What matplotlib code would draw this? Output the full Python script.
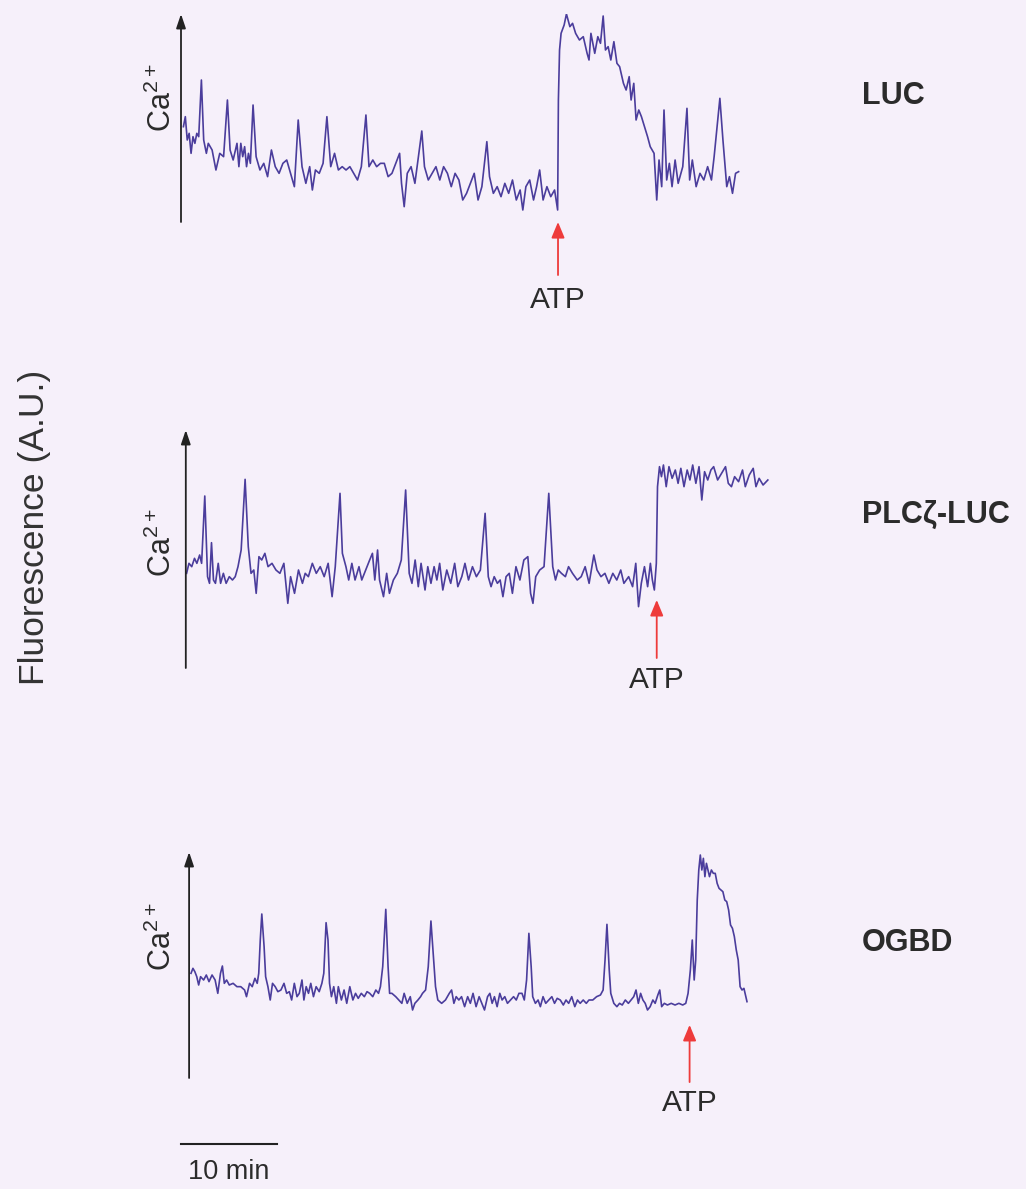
import numpy as np
import matplotlib
matplotlib.use("Agg")
import matplotlib.pyplot as plt

plt.rcParams['font.family'] = ['Liberation Sans', 'DejaVu Sans']
plt.rcParams['mathtext.default'] = 'regular'

# recordings: frame number and fluorescence (A.U.)
luc_frame = [35, 40, 45, 50, 55, 60, 65, 70, 75, 82, 88, 95, 100, 110, 120, 130, 140, 150, 157, 165,
             175, 180, 185, 190, 195, 200, 205, 210, 217, 225, 235, 245, 255, 265, 275, 285, 295, 305,
             315, 325, 335, 345, 355, 365, 372, 380, 390, 400, 410, 420, 430, 440, 450, 460, 470, 480,
             490, 500, 512, 520, 530, 540, 550, 560, 570, 580, 590, 600, 605, 612, 620, 630, 640, 648,
             658, 665, 675, 685, 695, 705, 715, 725, 735, 745, 755, 765, 775, 785, 795, 805, 815, 828,
             835, 845, 855, 865, 875, 885, 895, 905, 915, 922, 930, 940, 950, 958, 966, 975, 985, 995,
             1005, 1013, 1015, 1018, 1022, 1030, 1036, 1045, 1052, 1060, 1070, 1080, 1090, 1095, 1100,
             1110, 1118, 1125, 1132, 1138, 1145, 1152, 1160, 1168, 1175, 1185, 1192, 1200, 1205, 1212,
             1218, 1225, 1232, 1240, 1248, 1255, 1265, 1272, 1278, 1285, 1291, 1298, 1305, 1312, 1320,
             1328, 1340, 1351, 1358, 1365, 1375, 1385, 1395, 1405, 1415, 1422, 1437, 1445, 1455, 1462,
             1470, 1478, 1486]
luc_f = [320, 350, 280, 300, 240, 290, 270, 300, 290, 460, 280, 240, 270, 250, 190, 240, 230, 400, 250, 220,
         270, 200, 270, 230, 260, 200, 240, 210, 385, 230, 190, 210, 170, 250, 200, 180, 210, 220,
         180, 140, 340, 200, 150, 200, 130, 190, 180, 210, 350, 200, 240, 190, 200, 190, 200, 180,
         160, 200, 355, 200, 220, 200, 210, 210, 170, 180, 210, 240, 150, 80, 180, 200, 150, 220,
         307, 200, 160, 180, 200, 160, 200, 180, 140, 180, 160, 100, 120, 150, 180, 100, 140, 275,
         170, 120, 140, 110, 150, 120, 160, 100, 130, 70, 140, 160, 100, 140, 190, 100, 140, 110,
         130, 70, 400, 550, 600, 625, 658, 620, 630, 600, 580, 590, 540, 520, 600,
         540, 590, 570, 652, 550, 560, 520, 575, 510, 500, 450, 430, 470, 400, 450,
         340, 370, 350, 320, 290, 260, 240, 100, 220, 140, 370, 160, 210, 140, 220,
         150, 200, 375, 160, 220, 140, 180, 160, 200, 160, 230, 405, 280, 140, 170,
         120, 180, 185]

plc_frame = [42, 48, 55, 62, 68, 75, 80, 88, 95, 100, 105, 110, 115, 122, 128, 135, 142, 150, 158, 165,
             172, 180, 190, 198, 205, 212, 218, 225, 232, 240, 248, 258, 268, 278, 288, 298, 305, 315,
             325, 335, 342, 350, 360, 370, 380, 390, 400, 410, 418, 430, 436, 445, 452, 460, 468, 478,
             485, 495, 505, 512, 518, 525, 530, 540, 548, 555, 565, 575, 585, 596, 605, 612, 620, 628,
             635, 645, 652, 660, 668, 675, 682, 690, 700, 710, 720, 728, 738, 746, 755, 765, 775, 785,
             797, 805, 812, 820, 828, 835, 842, 850, 858, 866, 875, 885, 895, 905, 912, 918, 925, 935,
             946, 958, 968, 975, 982, 990, 1000, 1008, 1018, 1030, 1040, 1050, 1060, 1072, 1080, 1090,
             1100, 1110, 1120, 1130, 1140, 1148, 1160, 1170, 1178, 1185, 1192, 1200, 1208, 1215, 1220,
             1225, 1230, 1233, 1238, 1243, 1248, 1255, 1262, 1270, 1278, 1285, 1292, 1300, 1308, 1315,
             1322, 1330, 1338, 1345, 1352, 1360, 1368, 1375, 1385, 1395, 1405, 1412, 1420, 1428, 1438,
             1448, 1455, 1465, 1475, 1482, 1490, 1500, 1512]
plc_f = [300, 330, 320, 345, 330, 355, 330, 532, 290, 270, 392, 280, 270, 330, 270, 300, 270, 290, 280, 290,
         320, 370, 582, 380, 300, 310, 240, 350, 340, 360, 320, 330, 310, 300, 330, 210, 290, 240,
         310, 270, 300, 290, 330, 300, 320, 290, 330, 230, 320, 540, 360, 320, 280, 330, 280, 320,
         280, 310, 340, 360, 280, 370, 280, 230, 300, 240, 280, 300, 340, 550, 300, 270, 340, 260,
         330, 250, 320, 270, 320, 280, 330, 250, 310, 270, 330, 260, 290, 330, 280, 320, 290, 310,
         480, 290, 260, 290, 270, 280, 230, 290, 300, 240, 320, 280, 340, 350, 240, 210, 290, 310,
         320, 540, 320, 280, 310, 300, 290, 320, 300, 280, 290, 320, 270, 355, 310, 290,
         300, 270, 300, 280, 310, 270, 290, 260, 330, 200, 270, 320, 260, 330, 280,
         250, 330, 560, 620, 590, 625, 560, 620, 585, 610, 570, 615, 560, 610, 580,
         625, 570, 620, 520, 605, 580, 610, 620, 580, 600, 620, 570, 560, 590, 575,
         610, 560, 595, 615, 560, 585, 565, 580]

ogbd_frame = [55, 60, 65, 70, 75, 80, 88, 95, 102, 110, 118, 125, 132, 137, 142, 148, 155, 165, 175, 185,
              195, 200, 208, 215, 222, 228, 232, 236, 240, 246, 250, 256, 262, 268, 275, 282, 290, 298,
              305, 312, 318, 325, 332, 338, 345, 350, 356, 362, 368, 375, 382, 390, 397, 402, 408, 413,
              417, 422, 428, 435, 440, 448, 455, 462, 470, 478, 485, 492, 500, 508, 515, 522, 530, 538,
              545, 550, 556, 564, 570, 574, 580, 590, 598, 606, 612, 620, 628, 634, 640, 648, 655, 660,
              668, 675, 682, 688, 694, 700, 710, 720, 730, 736, 742, 748, 755, 762, 770, 778, 785, 792,
              800, 808, 815, 822, 830, 836, 842, 848, 855, 862, 868, 875, 882, 890, 898, 905, 912, 920,
              926, 932, 938, 944, 948, 955, 962, 968, 975, 982, 990, 998, 1005, 1012, 1020, 1028, 1035,
              1042, 1050, 1058, 1065, 1072, 1080, 1088, 1095, 1105, 1115, 1125, 1132, 1137, 1142, 1148,
              1152, 1160, 1168, 1175, 1182, 1190, 1198, 1205, 1212, 1218, 1224, 1230, 1236, 1242, 1248,
              1255, 1262, 1268, 1275, 1280, 1285, 1292, 1300, 1310, 1320, 1330, 1340, 1348, 1354, 1360,
              1365, 1370, 1374, 1378, 1382, 1386, 1390, 1394, 1398, 1402, 1406, 1410, 1415, 1420, 1425,
              1430, 1435, 1440, 1445, 1450, 1455, 1460, 1465, 1470, 1475, 1480, 1485, 1490, 1495, 1500,
              1503, 1508]
ogbd_f = [330, 345, 335, 320, 295, 320, 310, 325, 305, 325, 310, 270, 330, 352, 300, 310, 295, 300, 290, 290,
          280, 260, 300, 290, 315, 300, 330, 430, 508, 410, 320, 290, 250, 300, 290, 275, 280, 300,
          270, 275, 250, 300, 260, 270, 310, 250, 290, 270, 300, 260, 290, 275, 300, 330, 482, 430,
          300, 260, 290, 240, 290, 250, 280, 240, 290, 250, 270, 255, 270, 260, 275, 270, 260, 280,
          270, 290, 350, 522, 350, 270, 270, 260, 250, 240, 270, 240, 260, 220, 240, 250, 260, 270,
          280, 350, 487, 390, 290, 250, 240, 250, 270, 280, 240, 260, 250, 260, 230, 260, 240, 270,
          230, 260, 240, 220, 260, 270, 240, 260, 230, 270, 250, 260, 240, 250, 260, 250, 270, 270,
          250, 310, 450, 350, 260, 240, 250, 230, 260, 240, 250, 260, 240, 255, 250, 235, 250,
          240, 260, 230, 250, 240, 250, 240, 250, 250, 260, 265, 280, 370, 477, 340,
          270, 240, 230, 240, 235, 250, 240, 250, 260, 280, 240, 270, 250, 240, 220,
          230, 250, 240, 265, 280, 230, 240, 235, 240, 235, 240, 235, 240, 270, 340,
          430, 310, 370, 550, 640, 685, 640, 675, 620, 660, 640, 620, 640, 630, 630,
          600, 585, 580, 575, 550, 545, 520, 475, 465, 440, 400, 370, 290, 280, 285,
          270, 245]

names = ['LUC', 'PLCζ-LUC', 'OGBD']
frames = [luc_frame, plc_frame, ogbd_frame]
signals = [luc_f, plc_f, ogbd_f]
frame_sec = [2.399, 2.479, 2.399]     # sampling interval of each recording
start_frame = [28.7, 40, 50]
atp_frame = [1014, 1231, 1358]
scale_min = 10

# layout (pixels)
W, H = 1026, 1189
px_per_min = 9.57
span_min = 65
ax_left = [181, 185.8, 189.1]
ax_top = [14, 430, 852]
ax_bottom = [222, 668, 1078]
ylims = [(34, 658), (16, 730), (16, 694)]
ca_y = [98, 543, 937]
name_y = [96, 515, 943]
atp_tip = [0.0, 0.286, 0.235]
atp_tail = [-0.255, 0.042, -0.018]
atp_text = [-0.375, -0.05, -0.111]

bg = '#F6F0FA'
trace_color = '#4B3D9C'
text_color = '#2b2b2b'
red = '#EE3B3B'

fig = plt.figure(figsize=(W / 100, H / 100), dpi=100, facecolor=bg)

for i in range(3):
    ax = fig.add_axes([ax_left[i] / W, 1 - ax_bottom[i] / H,
                       span_min * px_per_min / W, (ax_bottom[i] - ax_top[i]) / H])
    ax.set_facecolor('none')
    t = (np.array(frames[i]) - start_frame[i]) * frame_sec[i] / 60
    ax.plot(t, signals[i], color=trace_color, lw=1.2)
    ax.set_xlim(0, span_min)
    ax.set_ylim(*ylims[i])
    for s in ax.spines.values():
        s.set_visible(False)
    ax.set_xticks([])
    ax.set_yticks([])

    # vertical Ca axis with arrow head
    ax.annotate('', xy=(0, 1), xytext=(0, 0), xycoords='axes fraction',
                arrowprops=dict(arrowstyle='-|>,head_length=0.65,head_width=0.22',
                                color='#222222', lw=1.3, mutation_scale=13,
                                shrinkA=0, shrinkB=0))

    # ATP addition
    t_atp = (atp_frame[i] - start_frame[i]) * frame_sec[i] / 60
    tr = ax.get_xaxis_transform()
    ax.annotate('', xy=(t_atp, atp_tip[i]), xytext=(t_atp, atp_tail[i]), xycoords=tr,
                arrowprops=dict(arrowstyle='-|>,head_length=0.6,head_width=0.25',
                                color=red, lw=1.3, mutation_scale=16,
                                shrinkA=0, shrinkB=0),
                annotation_clip=False)
    ax.text(t_atp, atp_text[i], 'ATP', transform=tr, ha='center', va='center',
            fontsize=21.5, color=text_color, clip_on=False)

    fig.text(162 / W, 1 - ca_y[i] / H, r'Ca$^{2+}$', rotation=90, ha='center', va='center',
             fontsize=22, color=text_color)
    fig.text(862 / W, 1 - name_y[i] / H, names[i], ha='left', va='center',
             fontsize=22, fontweight='bold', color=text_color)

    if i == 2:
        # scale bar
        x0 = (181 - ax_left[i]) / px_per_min
        ax.plot([x0, x0 + scale_min], [-0.292, -0.292], color='#222222', lw=1.5,
                transform=tr, clip_on=False)
        ax.text(x0 + scale_min / 2, -0.415, '%d min' % scale_min, transform=tr,
                ha='center', va='center', fontsize=19.5, color=text_color)

fig.text(35 / W, 1 - 527 / H, 'Fluorescence (A.U.)', rotation=90, ha='center', va='center',
         fontsize=25.5, color='#333333')

plt.savefig('out.png', dpi=100, facecolor=bg)
